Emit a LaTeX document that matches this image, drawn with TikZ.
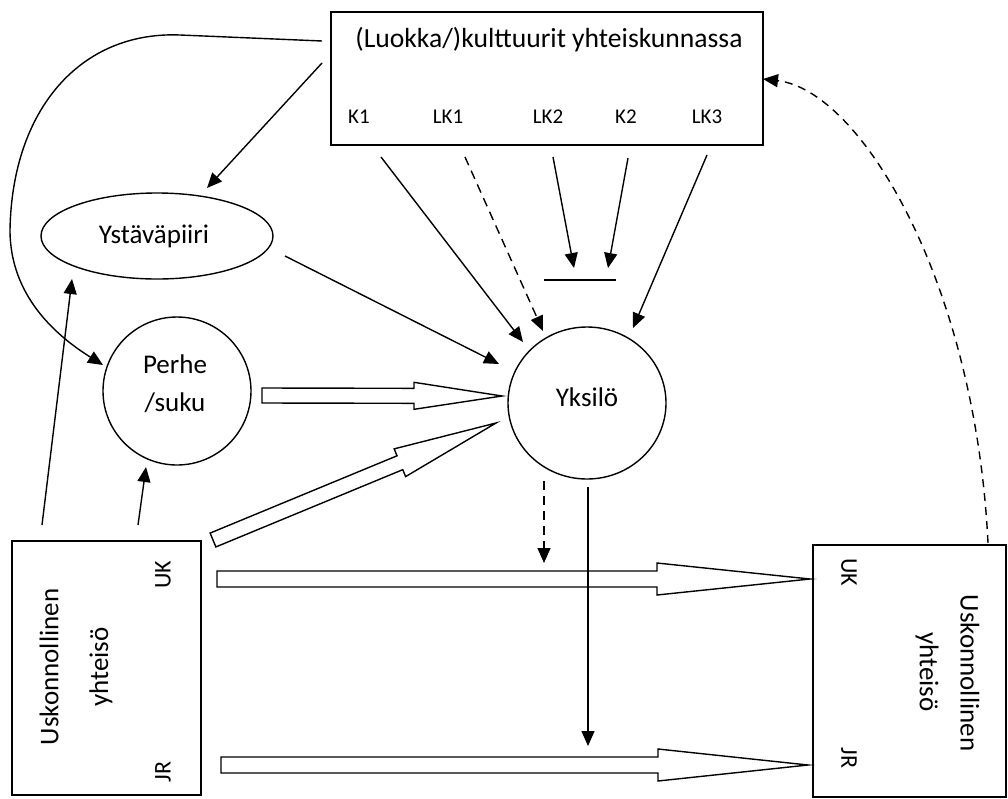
\documentclass[tikz,border=0pt]{standalone}
\usepackage{fontspec}
\setmainfont{Carlito}
\usetikzlibrary{arrows.meta,calc,shapes.geometric}

% Hollow block arrow: #1 start, #2 tip, #3 head length,
% #4 shaft half-width, #5 head half-width
\newcommand{\blockarrow}[5]{%
  \coordinate (ba-h) at ($(#2)!#3!(#1)$);
  \draw[blk] ($(#1)!#4!90:(#2)$) -- ($(ba-h)!#4!-90:(#1)$)
    -- ($(ba-h)!#5!-90:(#1)$) -- (#2) -- ($(ba-h)!#5!90:(#1)$)
    -- ($(ba-h)!#4!90:(#1)$) -- ($(#1)!#4!-90:(#2)$) -- cycle;
}

\tikzset{
  frame/.style={draw, line width=1.4pt, inner sep=0pt},
  lbl/.style={font=\fontsize{27}{32}\selectfont, inner sep=0pt},
  small/.style={font=\fontsize{21}{25}\selectfont, inner sep=0pt},
  mid/.style={font=\fontsize{24}{28}\selectfont, inner sep=0pt},
  conn/.style={line width=1.4pt, -{Triangle[length=15pt,width=13pt]}},
  dconn/.style={conn, dash pattern=on 9pt off 6pt},
  blk/.style={line width=1.4pt, line join=miter},
}

\begin{document}
\begin{tikzpicture}[x=1pt, y=-1pt]
\useasboundingbox (0,0) rectangle (1008,798);

% --- main shapes ---
\node[frame, minimum width=432pt, minimum height=133pt] (soc) at (547,78.5) {};
\node[lbl, font=\fontsize{27.6}{32}\selectfont] (soctitle) at (549,40) {(Luokka/)kulttuurit yhteiskunnassa};
\node[small] (k1)  at (359,117) {K1};
\node[small] (lk1) at (448,117) {LK1};
\node[small] (lk2) at (548,117) {LK2};
\node[small] (k2)  at (626,117) {K2};
\node[small] (lk3) at (707,117) {LK3};

\node[frame, ellipse, minimum width=232pt, minimum height=86pt] (ystava) at (157,236) {};
\node[lbl] (ystavatext) at (154,236) {Ystäväpiiri};

\node[frame, circle, minimum size=148pt] (perhe) at (177,391) {};
\node[lbl, align=center, font=\fontsize{27}{38}\selectfont] (perhetext) at (175,384) {Perhe\\/suku};

\node[frame, ellipse, minimum width=158pt, minimum height=152pt] (yksilo) at (587,403) {};
\node[lbl] (yksilotext) at (587,397) {Yksilö};

\node[frame, minimum width=189pt, minimum height=254pt] (uyleft) at (106.5,668) {};
\node[lbl, rotate=90] (uyl1) at (49,667) {Uskonnollinen};
\node[lbl, rotate=90] (uyl2) at (101,667) {yhteisö};
\node[mid, rotate=90] (ukl) at (163,575) {UK};
\node[mid, rotate=90] (jrl) at (163,772) {JR};

\node[frame, minimum width=193pt, minimum height=252pt] (uyright) at (909.5,671) {};
\node[lbl, rotate=-90] (uyr1) at (970,673) {Uskonnollinen};
\node[lbl, rotate=-90] (uyr2) at (927,672) {yhteisö};
\node[mid, rotate=-90] (ukr) at (849,572) {UK};
\node[mid, rotate=-90] (jrr) at (849,758) {JR};

% short bar under LK2 and K2
\coordinate (barl) at (544,280);
\coordinate (barr) at (616,280);
\draw[line width=1.4pt] (barl) -- (barr);

% --- connector end points ---
\coordinate (c-soc1) at (322,41);
\coordinate (c-soc2) at (322,63);
\coordinate (c-y1) at (207,188);
\coordinate (c-p1) at (103,365);
\coordinate (c-ys) at (285,256);
\coordinate (c-yk1) at (499,364);
\coordinate (c-k1s) at (381,157);
\coordinate (c-k1t) at (523,342);
\coordinate (c-lk1s) at (465,157);
\coordinate (c-lk1t) at (543,331);
\coordinate (c-lk2s) at (553,157);
\coordinate (c-lk2t) at (574,268);
\coordinate (c-k2s) at (628,158);
\coordinate (c-k2t) at (608,268);
\coordinate (c-lk3s) at (707,155);
\coordinate (c-lk3t) at (633,328);
\coordinate (c-l1) at (42,525);
\coordinate (c-y2) at (72,279);
\coordinate (c-l2) at (138,525);
\coordinate (c-p2) at (146,467);
\coordinate (c-d1s) at (544,481);
\coordinate (c-d1t) at (544,563);
\coordinate (c-d2s) at (588,487);
\coordinate (c-d2t) at (588,746);
\coordinate (c-rs) at (988,543);
\coordinate (c-rt) at (763,79);

% --- thin connectors ---
\draw[conn] (c-soc1) -- (180,35) .. controls (80,31) and (12,110) .. (10,230)
  .. controls (10,295) and (55,335) .. (c-p1);
\draw[conn] (c-soc2) -- (c-y1);
\draw[conn] (c-ys) -- (c-yk1);
\draw[conn] (c-k1s) -- (c-k1t);
\draw[dconn] (c-lk1s) -- (c-lk1t);
\draw[conn] (c-lk2s) -- (c-lk2t);
\draw[conn] (c-k2s) -- (c-k2t);
\draw[conn] (c-lk3s) -- (c-lk3t);
\draw[conn] (c-l1) -- (c-y2);
\draw[conn] (c-l2) -- (c-p2);
\draw[dconn] (c-d1s) -- (c-d1t);
\draw[conn] (c-d2s) -- (c-d2t);
\draw[conn, dash pattern=on 8pt off 6pt] (c-rs) .. controls (975,280) and (860,90) .. (c-rt);

% --- hollow block arrows ---
\coordinate (b-ps) at (262,395.5);
\coordinate (b-pt) at (502,396);
\coordinate (b-ds) at (213,540);
\coordinate (b-dt) at (496,423);
\coordinate (b-us) at (217,579);
\coordinate (b-ut) at (810,579);
\coordinate (b-js) at (221,765);
\coordinate (b-jt) at (808,765);
\blockarrow{b-ps}{b-pt}{88pt}{7.5pt}{13.5pt}
\blockarrow{b-ds}{b-dt}{104pt}{7.5pt}{15pt}
\blockarrow{b-us}{b-ut}{153pt}{8pt}{16pt}
\blockarrow{b-js}{b-jt}{150pt}{8pt}{16pt}
\end{tikzpicture}
\end{document}
